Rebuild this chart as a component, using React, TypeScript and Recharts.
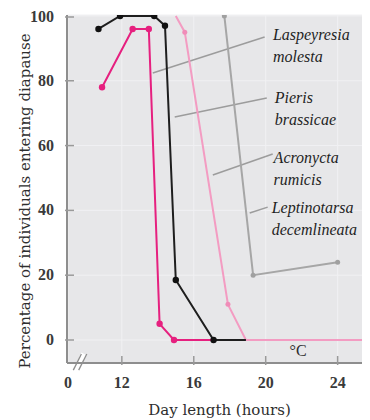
import React from "react";
import {
  LineChart,
  Line,
  XAxis,
  YAxis,
  CartesianGrid,
  ReferenceLine,
  ReferenceDot,
} from "recharts";

// day length (hours) and % entering diapause
const blackHours = [10.7, 11.9, 13.8, 14.4, 15.0, 17.1, 18.9];
const blackValues = [96, 100, 100, 97, 18.5, 0, 0];
const magentaHours = [10.9, 12.6, 13.5, 14.1, 14.9, 17.1];
const magentaValues = [78, 96, 96, 5, 0, 0];
const pinkHours = [15.0, 15.5, 17.9, 18.9, 25.8];
const pinkValues = [100, 95, 11, 0, 0];
const grayHours = [17.7, 19.3, 24.0];
const grayValues = [100, 20, 24];

const xTicks = [9, 12, 16, 20, 24];
const xTickLabels = ["0", "12", "16", "20", "24"];
const yTicks = [0, 20, 40, 60, 80, 100];

const species = [
  { name: ["Laspeyresia", "molesta"], at: [20.4, 92.6], from: [13.72, 82.4], to: [19.94, 93.5] },
  { name: ["Pieris", "brassicae"], at: [20.5, 73.1], from: [14.94, 68.8], to: [20.06, 74.7] },
  { name: ["Acronycta", "rumicis"], at: [20.44, 54.6], from: [17.06, 50.9], to: [20.39, 57.4] },
  { name: ["Leptinotarsa", "decemlineata"], at: [20.33, 39.2], from: [19.11, 39.2], to: [20.11, 41.0] },
];

const build = (hours: number[], values: number[], noDot: number[] = []) =>
  hours.map((x, i) => ({ x, y: values[i], dot: !noDot.includes(i) }));

const blackData = build(blackHours, blackValues, [6]);
const magentaData = build(magentaHours, magentaValues, [5]);
const pinkData = build(pinkHours, pinkValues, [0, 3, 4]);
const grayData = build(grayHours, grayValues);

const serif = "'Liberation Serif', 'DejaVu Serif', serif";
const titleFont = "'DejaVu Serif', serif";

const makeDot = (color: string, r: number) => (p: any) => {
  if (!p.payload || !p.payload.dot) return <g key={p.key ?? p.index} />;
  return <circle key={p.key ?? p.index} cx={p.cx} cy={p.cy} r={r} fill={color} stroke="none" />;
};

const YTick = (p: any) => (
  <g>
    <line x1={p.x} y1={p.y} x2={p.x + 9} y2={p.y} stroke="#9a9a9a" strokeWidth={1.5} />
    <text x={p.x - 11} y={p.y + 5} textAnchor="end" fontFamily={serif} fontSize={16} fontWeight="bold" fill="#3a3a3a">
      {p.payload.value}
    </text>
  </g>
);

const XTick = (p: any) => {
  const i = xTicks.indexOf(p.payload.value);
  return (
    <g>
      {i > 0 && <line x1={p.x} y1={p.y} x2={p.x} y2={p.y - 9} stroke="#9a9a9a" strokeWidth={1.5} />}
      <text x={p.x} y={p.y + 23} textAnchor="middle" fontFamily={serif} fontSize={16} fontWeight="bold" fill="#3a3a3a">
        {xTickLabels[i]}
      </text>
    </g>
  );
};

const SpeciesLabel = (lines: string[]) => (p: any) => {
  const vb = p.viewBox;
  return (
    <text x={vb.x} y={vb.y} fontFamily={serif} fontSize={16} fontStyle="italic" fill="#1f1f1f">
      <tspan x={vb.x} dy={0}>{lines[0]}</tspan>
      <tspan x={vb.x} dy={22}>{lines[1]}</tspan>
    </text>
  );
};

export default function App() {
  return (
    <LineChart
      width={362}
      height={412}
      margin={{ top: 7, right: 0, left: 9, bottom: 27 }}
    >
      <CartesianGrid fill="#e7e7e9" stroke="#f1f1f3" strokeWidth={1} />
      <XAxis
        dataKey="x"
        type="number"
        domain={[8.95, 25.8]}
        ticks={xTicks}
        allowDataOverflow
        height={30}
        axisLine={{ stroke: "#8e8e8e", strokeWidth: 2 }}
        tickLine={false}
        tickSize={0}
        tick={<XTick />}
        label={(p: any) => (
          <text
            x={p.viewBox.x + p.viewBox.width / 2 + 1}
            y={p.viewBox.y + 52}
            textAnchor="middle"
            fontFamily={titleFont}
            fontSize={15}
            fill="#2e2e2e"
          >
            Day length (hours)
          </text>
        )}
      />
      <YAxis
        type="number"
        domain={[-7.1, 100.3]}
        ticks={yTicks}
        allowDataOverflow
        width={50}
        axisLine={{ stroke: "#8e8e8e", strokeWidth: 2 }}
        tickLine={false}
        tickSize={0}
        tick={<YTick />}
        label={(p: any) => {
          const cx = p.viewBox.x + 8;
          const cy = p.viewBox.y + p.viewBox.height / 2 + 12;
          return (
            <text
              x={cx}
              y={cy}
              transform={`rotate(-90 ${cx} ${cy})`}
              textAnchor="middle"
              dominantBaseline="central"
              fontFamily={titleFont}
              fontSize={15}
              fill="#2e2e2e"
            >
              Percentage of individuals entering diapause
            </text>
          );
        }}
      />

      {species.map((s) => (
        <ReferenceLine
          key={s.name[0] + "-lead"}
          segment={[
            { x: s.from[0], y: s.from[1] },
            { x: s.to[0], y: s.to[1] },
          ]}
          stroke="#9c9c9c"
          strokeWidth={1.5}
        />
      ))}

      <Line data={pinkData} dataKey="y" stroke="#f39cc2" strokeWidth={2} dot={makeDot("#f08cb8", 2.5)} isAnimationActive={false} />
      <Line data={grayData} dataKey="y" stroke="#a6a6a6" strokeWidth={2} dot={makeDot("#a0a0a0", 2.5)} isAnimationActive={false} />
      <Line data={magentaData} dataKey="y" stroke="#e6207f" strokeWidth={2} dot={makeDot("#e6207f", 3.2)} isAnimationActive={false} />
      <Line data={blackData} dataKey="y" stroke="#1e1e1e" strokeWidth={2} dot={makeDot("#111", 3.2)} isAnimationActive={false} />

      {species.map((s) => (
        <ReferenceDot
          key={s.name[0]}
          x={s.at[0]}
          y={s.at[1]}
          r={0}
          fill="none"
          stroke="none"
          label={SpeciesLabel(s.name)}
        />
      ))}

      <ReferenceDot x={21.8} y={-3.1} r={0} fill="none" stroke="none" label={(p: any) => (
        <text x={p.viewBox.x} y={p.viewBox.y + 6} textAnchor="middle" fontFamily={serif} fontSize={16} fill="#2e2e2e">°C</text>
      )} />

      <ReferenceLine segment={[{ x: 9.45, y: -9.3 }, { x: 9.9, y: -4.3 }]} stroke="#ffffff" strokeWidth={6} ifOverflow="visible" />
      <ReferenceLine segment={[{ x: 9.3, y: -9.3 }, { x: 9.75, y: -4.3 }]} stroke="#8e8e8e" strokeWidth={1.3} ifOverflow="visible" />
      <ReferenceLine segment={[{ x: 9.6, y: -9.3 }, { x: 10.05, y: -4.3 }]} stroke="#8e8e8e" strokeWidth={1.3} ifOverflow="visible" />
    </LineChart>
  );
}
